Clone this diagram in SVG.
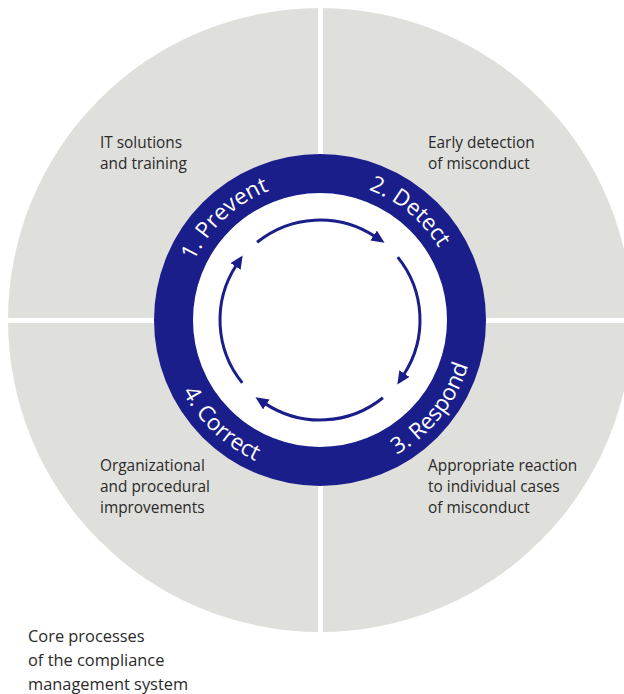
<svg xmlns="http://www.w3.org/2000/svg" xmlns:xlink="http://www.w3.org/1999/xlink" width="624" height="694" viewBox="0 0 624 694">
  <style>
    .desc { font-family: "Open Sans", "Liberation Sans", sans-serif; font-size: 15.4px; fill: #2a2a2a; }
    .cap { font-family: "Open Sans", "Liberation Sans", sans-serif; font-size: 16.4px; fill: #2a2a2a; }
    .ring { font-family: "Open Sans", "Liberation Sans", sans-serif; font-size: 22.5px; fill: #ffffff; }
    .arrow { fill: none; stroke: #1a1e8a; stroke-width: 3; marker-end: url(#head); }
  </style>
  <defs>
    <marker id="head" markerUnits="userSpaceOnUse" markerWidth="13" markerHeight="12" viewBox="0 0 13 12" refX="1" refY="6" orient="auto">
      <path d="M0,0 L13,6 L0,12 z" fill="#1a1e8a"/>
    </marker>
    <path id="topArc" d="M181,320 A139,139 0 0 1 459,320"/>
    <path id="botArc" d="M165,320 A155,155 0 0 0 475,320"/>
  </defs>
  <rect width="624" height="694" fill="#ffffff"/>

  <g id="background">
    <circle cx="320" cy="320" r="312" fill="#dfdfdb"/>
    <rect x="318" y="0" width="5" height="694" fill="#ffffff"/>
    <rect x="0" y="318" width="624" height="5" fill="#ffffff"/>
  </g>

  <g id="ring">
    <circle cx="320" cy="320" r="146.5" fill="#ffffff" stroke="#1a1e8a" stroke-width="39"/>
  </g>

  <g id="prevent">
    <text class="ring" text-anchor="middle"><textPath xlink:href="#topArc" href="#topArc" startOffset="26%">1. Prevent</textPath></text>
    <text class="desc" x="100" y="148">IT solutions</text>
    <text class="desc" x="100" y="169">and training</text>
  </g>

  <g id="detect">
    <text class="ring" text-anchor="middle"><textPath xlink:href="#topArc" href="#topArc" startOffset="72%">2. Detect</textPath></text>
    <text class="desc" x="428" y="148">Early detection</text>
    <text class="desc" x="428" y="169">of misconduct</text>
  </g>

  <g id="respond">
    <text class="ring" text-anchor="middle"><textPath xlink:href="#botArc" href="#botArc" startOffset="78.5%">3. Respond</textPath></text>
    <text class="desc" x="428" y="471">Appropriate reaction</text>
    <text class="desc" x="428" y="492">to individual cases</text>
    <text class="desc" x="428" y="513">of misconduct</text>
  </g>

  <g id="correct">
    <text class="ring" text-anchor="middle"><textPath xlink:href="#botArc" href="#botArc" startOffset="25.8%">4. Correct</textPath></text>
    <text class="desc" x="100" y="471">Organizational</text>
    <text class="desc" x="100" y="492">and procedural</text>
    <text class="desc" x="100" y="513">improvements</text>
  </g>

  <g id="connectors">
    <path class="arrow" d="M257.07,242.29 A100,100 0 0 1 374.46,236.13"/>
    <path class="arrow" d="M397.71,257.07 A100,100 0 0 1 403.87,374.46"/>
    <path class="arrow" d="M382.93,397.71 A100,100 0 0 1 265.54,403.87"/>
    <path class="arrow" d="M242.29,382.93 A100,100 0 0 1 236.13,265.54"/>
  </g>

  <g id="caption">
    <text class="cap" x="28" y="642">Core processes</text>
    <text class="cap" x="28" y="666">of the compliance</text>
    <text class="cap" x="28" y="690">management system</text>
  </g>
</svg>
